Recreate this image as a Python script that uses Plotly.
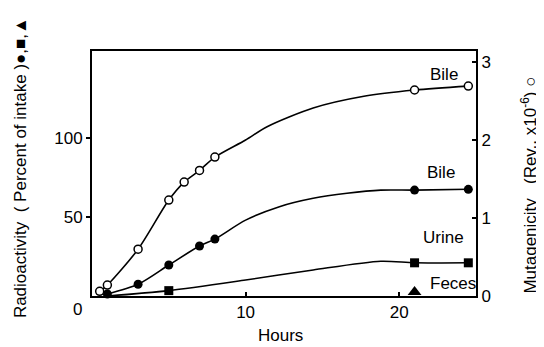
import plotly.graph_objects as go

# ---- data ----
# Mutagenicity of bile (right axis, open circles)
mut_hours = [0.5, 1, 3, 5, 6, 7, 8, 21, 24.5]
mut_values = [0.06, 0.14, 0.60, 1.23, 1.46, 1.61, 1.78, 2.64, 2.69]
mut_curve_hours = [0.5, 1, 3, 5, 6, 7, 8, 10, 11.4, 14.4, 17.7, 21, 24.5]
mut_curve_values = [0.06, 0.14, 0.60, 1.23, 1.46, 1.61, 1.78, 2.0, 2.17, 2.41, 2.56, 2.64, 2.69]

# Radioactivity in bile (left axis, filled circles)
bile_hours = [1, 3, 5, 7, 8, 21, 24.5]
bile_values = [1.3, 7.4, 19.6, 31.6, 36, 67, 67.5]
bile_curve_hours = [1, 3, 5, 7, 8, 10, 12.2, 14.4, 16.6, 18.8, 21, 24.5]
bile_curve_values = [1.3, 7.4, 19.6, 31.6, 36, 48, 56.5, 61.8, 65, 67, 67, 67.5]

# Radioactivity in urine (left axis, filled squares)
urine_hours = [5, 21, 24.5]
urine_values = [3.4, 21, 21]
urine_curve_hours = [1, 5, 10, 14.4, 18.8, 21, 24.5]
urine_curve_values = [0, 3.4, 10.1, 16.5, 22, 21, 21]

# Radioactivity in feces (left axis, filled triangle)
feces_hours = [21]
feces_values = [2.5]

x_ticks = [10, 20]
y_ticks = [50, 100]
y2_ticks = [0, 1, 2, 3]

FONT = "Liberation Sans"
FS = 17
BLACK = "black"

fig = go.Figure()

# curves
for hx, hy, ax in [(mut_curve_hours, mut_curve_values, "y2"),
                   (bile_curve_hours, bile_curve_values, "y"),
                   (urine_curve_hours, urine_curve_values, "y")]:
    fig.add_trace(go.Scatter(x=hx, y=hy, yaxis=ax, mode="lines",
                             line=dict(color=BLACK, width=1.6, shape="spline", smoothing=0.8),
                             showlegend=False, hoverinfo="skip"))

# markers
fig.add_trace(go.Scatter(x=mut_hours, y=mut_values, yaxis="y2", mode="markers",
                         marker=dict(symbol="circle", size=8, color="white",
                                     line=dict(color=BLACK, width=1.5)),
                         showlegend=False, cliponaxis=False))
fig.add_trace(go.Scatter(x=bile_hours, y=bile_values, mode="markers",
                         marker=dict(symbol="circle", size=9, color=BLACK),
                         showlegend=False, cliponaxis=False))
fig.add_trace(go.Scatter(x=urine_hours, y=urine_values, mode="markers",
                         marker=dict(symbol="square", size=9, color=BLACK),
                         showlegend=False, cliponaxis=False))
fig.add_trace(go.Scatter(x=feces_hours, y=feces_values, mode="markers",
                         marker=dict(symbol="triangle-up", size=12, color=BLACK),
                         showlegend=False, cliponaxis=False))

annotations = [
    dict(x=22.9, y=140, text="Bile"),
    dict(x=22.7, y=78, text="Bile"),
    dict(x=22.9, y=37, text="Urine"),
    dict(x=23.5, y=8, text="Feces"),
    dict(xref="paper", yref="paper", x=-0.039, y=-0.057, text="0"),
    dict(xref="paper", yref="paper", x=0.49, y=-0.163, text="Hours"),
    dict(xref="paper", yref="paper", x=-0.1875, y=0.522, textangle=-90,
         text="Radioactivity  ( Percent of intake )●,■,▲"),
    dict(xref="paper", yref="paper", x=1.137, y=0.453, textangle=-90,
         text="Mutagenicity   (Rev., x10<sup>-6</sup>) ○"),
]
for a in annotations:
    a.setdefault("xref", "x")
    a.setdefault("yref", "y")
    a.setdefault("xanchor", "center")
    a.setdefault("yanchor", "middle")
    a["showarrow"] = False
    a["font"] = dict(family=FONT, size=FS, color=BLACK)

# The page body adds an 8px margin, so the figure is 8px smaller and margins shifted.
fig.update_layout(
    width=536, height=339,
    margin=dict(l=84, r=68, t=43, b=51),
    paper_bgcolor="white", plot_bgcolor="white",
    showlegend=False,
    font=dict(family=FONT, size=FS, color=BLACK),
    xaxis=dict(range=[0, 25], tickvals=x_ticks, ticktext=[str(t) for t in x_ticks],
               ticks="inside", ticklen=4, tickwidth=1.5, tickcolor=BLACK,
               showline=True, linecolor=BLACK, linewidth=2, mirror=True,
               showgrid=False, zeroline=False),
    yaxis=dict(range=[0, 155], tickvals=y_ticks, ticktext=[str(t) for t in y_ticks],
               ticks="outside", ticklen=4, tickwidth=1.5, tickcolor=BLACK,
               showline=True, linecolor=BLACK, linewidth=2,
               showgrid=False, zeroline=False),
    yaxis2=dict(range=[0, 3.14], tickvals=y2_ticks, ticktext=[str(t) for t in y2_ticks],
                overlaying="y", side="right", anchor="x",
                ticks="inside", ticklen=4, tickwidth=1.5, tickcolor=BLACK,
                showline=True, linecolor=BLACK, linewidth=2,
                showgrid=False, zeroline=False),
    annotations=annotations,
)

fig.write_html("out.html")
